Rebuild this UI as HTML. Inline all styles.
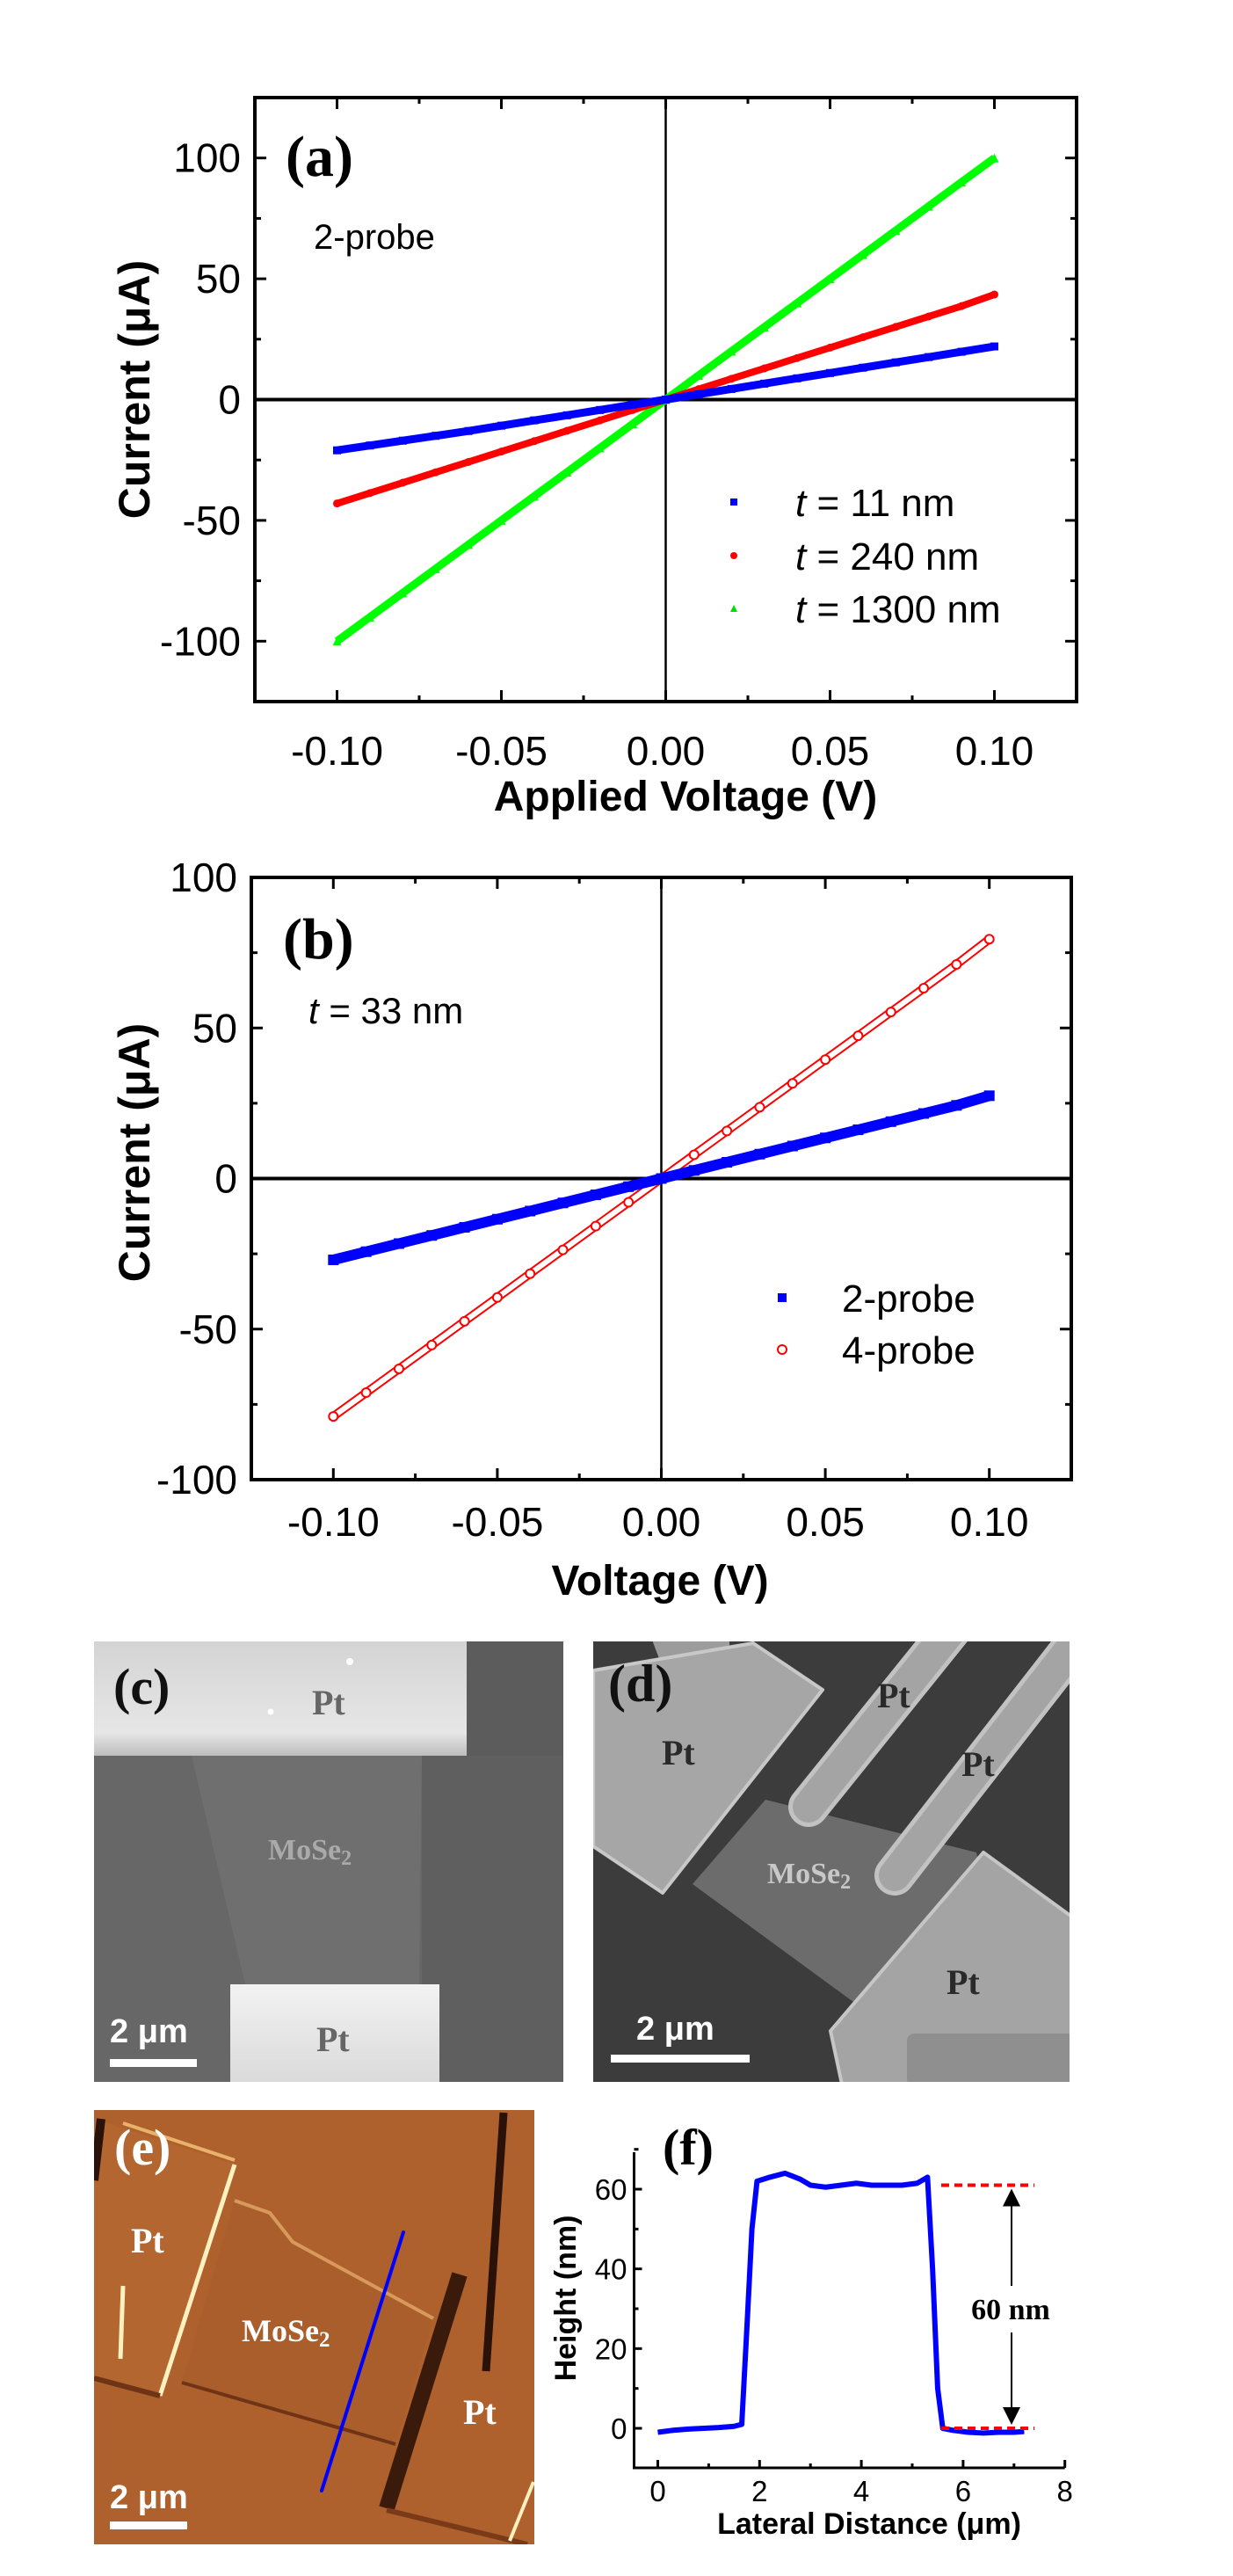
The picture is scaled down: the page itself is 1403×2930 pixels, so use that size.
<!DOCTYPE html>
<html><head><meta charset="utf-8"><style>
html,body{margin:0;padding:0;background:#fff;}
svg{display:block;}
text{font-family:"Liberation Sans",Arial,sans-serif;}
.tm{font-family:"Liberation Serif","Times New Roman",serif;font-weight:bold;}
</style></head><body>
<svg id="fig" xmlns="http://www.w3.org/2000/svg" width="1403" height="2930" viewBox="0 0 1403 2930">
<defs>
<clipPath id="clipD"><rect x="675" y="1867" width="542" height="501"/></clipPath>
<clipPath id="clipE"><rect x="107" y="2400" width="501" height="494"/></clipPath>
<clipPath id="clipA"><rect x="290" y="111" width="935" height="687"/></clipPath>
<clipPath id="clipB"><rect x="286" y="998" width="933" height="685"/></clipPath>
<linearGradient id="ptTop" x1="0" y1="0" x2="0" y2="1"><stop offset="0" stop-color="#d4d4d4"/><stop offset="0.8" stop-color="#e6e6e6"/><stop offset="1" stop-color="#bdbdbd"/></linearGradient>
<linearGradient id="ptBot" x1="0" y1="0" x2="0" y2="1"><stop offset="0" stop-color="#f2f2f2"/><stop offset="1" stop-color="#dadada"/></linearGradient>
</defs>

<!-- panel c -->
<g>
<rect x="107" y="1867" width="534" height="501" fill="#676767"/>
<rect x="480" y="1997" width="161" height="371" fill="#5f5f5f"/>
<polygon points="218,1997 480,1997 477,2257 279,2257" fill="#6f6f6f"/>
<rect x="107" y="1867" width="424" height="130" fill="url(#ptTop)"/>
<rect x="531" y="1867" width="110" height="130" fill="#5c5c5c"/>
<rect x="262" y="2257" width="238" height="111" fill="url(#ptBot)"/>
<circle cx="398" cy="1890" r="4" fill="#fff"/><circle cx="308" cy="1947" r="3.5" fill="#fff"/>
<text class="tm" x="129" y="1938" font-size="58" fill="#111">(c)</text>
<text class="tm" x="355" y="1950" font-size="40" fill="#666">Pt</text>
<text class="tm" x="360" y="2333" font-size="40" fill="#666">Pt</text>
<text class="tm" x="305" y="2115" font-size="34" fill="#aaa">MoSe<tspan font-size="24" dy="6">2</tspan></text>
<text x="125" y="2323" font-size="38" font-weight="bold" fill="#fff">2 μm</text>
<rect x="125" y="2342" width="99" height="9" fill="#fff"/>
</g>

<!-- panel d -->
<g clip-path="url(#clipD)">
<rect x="675" y="1867" width="542" height="501" fill="#3c3c3c"/>
<polygon points="788,2143 871,2047 1111,2107 1130,2200 971,2277" fill="#6c6c6c"/>
<polygon points="740,1860 830,1860 830,1913 760,1913" fill="#9c9c9c"/>
<polygon points="857,1869 936,1922 754,2153 675,2100 675,1900" fill="#a6a6a6" stroke="#c8c8c8" stroke-width="4" stroke-linejoin="round"/>
<line x1="920" y1="2055" x2="1085" y2="1850" stroke="#c2c2c2" stroke-width="46" stroke-linecap="round"/>
<line x1="920" y1="2055" x2="1085" y2="1850" stroke="#a4a4a4" stroke-width="36" stroke-linecap="round"/>
<line x1="1018" y1="2133" x2="1215" y2="1880" stroke="#c2c2c2" stroke-width="46" stroke-linecap="round"/>
<line x1="1018" y1="2133" x2="1215" y2="1880" stroke="#a4a4a4" stroke-width="36" stroke-linecap="round"/>
<polygon points="1119,2107 1240,2195 1240,2380 960,2380 945,2310" fill="#a4a4a4" stroke="#c6c6c6" stroke-width="4" stroke-linejoin="round"/>
<rect x="1032" y="2313" width="190" height="60" rx="8" fill="#8f8f8f"/>
<text class="tm" x="692" y="1935" font-size="60" fill="#111">(d)</text>
<text class="tm" x="753" y="2007" font-size="40" fill="#2a2a2a">Pt</text>
<text class="tm" x="998" y="1942" font-size="40" fill="#2a2a2a">Pt</text>
<text class="tm" x="1094" y="2020" font-size="40" fill="#2a2a2a">Pt</text>
<text class="tm" x="1077" y="2268" font-size="40" fill="#2a2a2a">Pt</text>
<text class="tm" x="873" y="2142" font-size="34" fill="#c8c8c8">MoSe<tspan font-size="24" dy="6">2</tspan></text>
<text x="724" y="2320" font-size="38" font-weight="bold" fill="#fff">2 μm</text>
<rect x="695" y="2337" width="158" height="9" fill="#fff"/>
</g>

<!-- panel e -->
<g clip-path="url(#clipE)">
<rect x="107" y="2400" width="501" height="494" fill="#ae612d"/>
<polygon points="107,2410 267,2462 182,2725 107,2710" fill="#b3662f"/>
<polygon points="207,2710 267,2503 307,2517 333,2550 493,2637 450,2780" fill="#a95e2c"/>
<line x1="140" y1="2415" x2="267" y2="2457" stroke="#e8b26a" stroke-width="4"/>
<line x1="267" y1="2462" x2="182" y2="2725" stroke="#fff2c0" stroke-width="5"/>
<polyline points="267,2503 307,2517 333,2550 493,2637" fill="none" stroke="#d89a5a" stroke-width="4"/>
<line x1="207" y1="2710" x2="450" y2="2780" stroke="#6e3415" stroke-width="4"/>
<line x1="107" y1="2705" x2="182" y2="2725" stroke="#6e3415" stroke-width="6"/>
<line x1="140" y1="2600" x2="137" y2="2683" stroke="#fff0c0" stroke-width="5"/>
<line x1="573" y1="2403" x2="553" y2="2697" stroke="#2a1208" stroke-width="9"/>
<line x1="523" y1="2587" x2="440" y2="2853" stroke="#3a1a0a" stroke-width="18"/>
<line x1="440" y1="2855" x2="600" y2="2894" stroke="#7a3a18" stroke-width="6"/>
<line x1="115" y1="2410" x2="107" y2="2480" stroke="#2a1208" stroke-width="10"/>
<line x1="607" y1="2823" x2="580" y2="2890" stroke="#fff0c0" stroke-width="4"/>
<line x1="459" y1="2539" x2="366" y2="2833" stroke="#0000ff" stroke-width="4" stroke-linecap="round"/>
<text class="tm" x="130" y="2462" font-size="58" fill="#fff">(e)</text>
<text class="tm" x="149" y="2562" font-size="40" fill="#fff">Pt</text>
<text class="tm" x="527" y="2757" font-size="40" fill="#fff">Pt</text>
<text class="tm" x="275" y="2663" font-size="36" fill="#fff">MoSe<tspan font-size="25" dy="6">2</tspan></text>
<text x="125" y="2853" font-size="38" font-weight="bold" fill="#fff">2 μm</text>
<rect x="125" y="2868" width="88" height="9" fill="#fff"/>
</g>

<g id="chartA"></g>
<g id="chartB"></g>
<g id="chartF"></g>
</svg>
<script>
const NS = "http://www.w3.org/2000/svg";
// ---- chart (a) data ----
const voltA = [-0.10,-0.09,-0.08,-0.07,-0.06,-0.05,-0.04,-0.03,-0.02,-0.01,0,0.01,0.02,0.03,0.04,0.05,0.06,0.07,0.08,0.09,0.10];
const curA11 = [-21,-19,-17,-15,-13,-10.8,-8.6,-6.5,-4.3,-2.1,0,2.2,4.4,6.6,8.8,11,13.2,15.4,17.6,19.8,22];
const curA240 = [-43,-38.7,-34.4,-30.1,-25.8,-21.5,-17.2,-12.9,-8.6,-4.3,0,4.3,8.6,12.9,17.2,21.5,25.8,30.1,34.4,38.7,43.5];
const curA1300 = [-100,-90,-80,-70,-60,-50,-40,-30,-20,-10,0,10,20,30,40,50,60,70,80,90,100];
const xTicksA = ["-0.10","-0.05","0.00","0.05","0.10"];
const yTicksA = ["-100","-50","0","50","100"];
const legendA = ["= 11 nm","= 240 nm","= 1300 nm"];
// ---- chart (b) data ----
const voltB = [-0.10,-0.09,-0.08,-0.07,-0.06,-0.05,-0.04,-0.03,-0.02,-0.01,0,0.01,0.02,0.03,0.04,0.05,0.06,0.07,0.08,0.09,0.10];
const curB2 = [-27,-24.3,-21.6,-18.9,-16.2,-13.5,-10.8,-8.1,-5.4,-2.7,0,2.7,5.4,8.1,10.8,13.5,16.2,18.9,21.6,24.3,27.5];
const curB4 = [-79,-71.1,-63.2,-55.3,-47.4,-39.5,-31.6,-23.7,-15.8,-7.9,0,7.9,15.8,23.7,31.6,39.5,47.4,55.3,63.2,71.1,79.5];
const xTicksB = ["-0.10","-0.05","0.00","0.05","0.10"];
const yTicksB = ["-100","-50","0","50","100"];
const legendB = ["2-probe","4-probe"];
// ---- chart (f) data ----
const distF = [0,0.3,0.6,0.9,1.2,1.5,1.65,1.75,1.85,1.95,2.2,2.5,2.8,3.0,3.3,3.6,3.9,4.2,4.5,4.8,5.1,5.3,5.4,5.5,5.6,5.8,6.1,6.4,6.7,7.0,7.2];
const heightF = [-1,-0.5,-0.2,0,0.2,0.5,1,25,50,62,63,64,62.5,61,60.5,61,61.5,61,61,61,61.5,63,40,10,0,-0.5,-1,-1.2,-1,-1,-0.8];
const xTicksF = ["0","2","4","6","8"];
const yTicksF = ["0","20","40","60"];

function el(tag, parent){ const e=document.createElementNS(NS,tag); parent.appendChild(e); return e; }
function sa(e, o){ for(const k in o) e.setAttribute(k,o[k]); return e; }

function ivPanel(g, P){
  const sx = v => P.l + (v - P.x0)/(P.x1-P.x0)*(P.r-P.l);
  const sy = v => P.b - (v - P.y0)/(P.y1-P.y0)*(P.b-P.t);
  const hz = el("line", g); sa(hz,{x1:P.l,x2:P.r,y1:sy(0),y2:sy(0),stroke:"#000","stroke-width":4});
  
  
  const vz = el("line", g); sa(vz,{x1:sx(0),x2:sx(0),y1:P.t,y2:P.b,stroke:"#000","stroke-width":2.5});
  
  
  P.xt.forEach(lab=>{
    const v=parseFloat(lab), x=sx(v);
    const t1=el("line",g); sa(t1,{x1:x,x2:x,y1:P.b,y2:P.b-13,stroke:"#000","stroke-width":3});
    
    
    const t2=el("line",g); sa(t2,{x1:x,x2:x,y1:P.t,y2:P.t+13,stroke:"#000","stroke-width":3});
    
    
    const tx=el("text",g); sa(tx,{x:x,y:P.xlY,"text-anchor":"middle","font-size":46}); tx.textContent=lab;
    
    
    const m=v+0.025; if(m<0.11){ const xm=sx(m);
      const a=el("line",g); sa(a,{x1:xm,x2:xm,y1:P.b,y2:P.b-7,stroke:"#000","stroke-width":3});
      
      
      const b=el("line",g); sa(b,{x1:xm,x2:xm,y1:P.t,y2:P.t+7,stroke:"#000","stroke-width":3});
      
      
    }
  });
  P.yt.forEach(lab=>{
    const v=parseFloat(lab), y=sy(v);
    const t1=el("line",g); sa(t1,{x1:P.l,x2:P.l+13,y1:y,y2:y,stroke:"#000","stroke-width":3});
    
    
    const t2=el("line",g); sa(t2,{x1:P.r,x2:P.r-13,y1:y,y2:y,stroke:"#000","stroke-width":3});
    
    
    const tx=el("text",g); sa(tx,{x:P.l-16,y:y+16,"text-anchor":"end","font-size":46}); tx.textContent=lab;
    
    
    const m=v+25; if(m<P.y1){ const ym=sy(m);
      const a=el("line",g); sa(a,{x1:P.l,x2:P.l+7,y1:ym,y2:ym,stroke:"#000","stroke-width":3});
      
      
      const b=el("line",g); sa(b,{x1:P.r,x2:P.r-7,y1:ym,y2:ym,stroke:"#000","stroke-width":3});
      
      
    }
  });
  const fr=el("rect",g); sa(fr,{x:P.l,y:P.t,width:P.r-P.l,height:P.b-P.t,fill:"none",stroke:"#000","stroke-width":4});
  
  
  return {sx,sy};
}
function marker(g, kind, x, y, color, s){
  let m;
  if(kind==="sq"){ m=el("rect",g); sa(m,{x:x-s/2,y:y-s/2,width:s,height:s,fill:color}); }
  else if(kind==="dot"){ m=el("circle",g); sa(m,{cx:x,cy:y,r:s/2,fill:color}); }
  else if(kind==="tri"){ m=el("polygon",g); sa(m,{points:`${x},${y-s/2} ${x-s/2},${y+s/2} ${x+s/2},${y+s/2}`,fill:color}); }
  else { m=el("circle",g); sa(m,{cx:x,cy:y,r:s/2,fill:"#fff",stroke:color,"stroke-width":2}); }
  return m;
}
function series(g, xs, ys, S, kind, color, s, band, name, hollow){
  const sg=el("g",g);
  
  
  const pts=xs.map((v,i)=>S.sx(v)+","+S.sy(ys[i])).join(" ");
  const pl=el("polyline",sg); sa(pl,{points:pts,fill:"none",stroke:color,"stroke-width":band});
  
  
  if(hollow){ const p2=el("polyline",sg); sa(p2,{points:pts,fill:"none",stroke:"#fff","stroke-width":band-4});
    
     }
  xs.forEach((v,i)=>{ const m=marker(sg,kind,S.sx(v),S.sy(ys[i]),color,s);
    
     });
}
function txt(g, x, y, str, size, extra, name){
  const t=el("text",g); sa(t,Object.assign({x:x,y:y,"font-size":size},extra||{})); t.textContent=str;
  
  
  return t;
}

// ===== Chart A =====
(function(){
  const g=document.getElementById("chartA");
  const S=ivPanel(g,{l:290,r:1225,t:111,b:798,x0:-0.125,x1:0.125,y0:-125,y1:125,xt:xTicksA,yt:yTicksA,xlY:870});
  const dg=el("g",g); dg.setAttribute("clip-path","url(#clipA)");
  series(dg,voltA,curA1300,S,"tri","#00ff00",10,9,"series-1300nm");
  series(dg,voltA,curA240,S,"dot","#ff0000",9,8,"series-240nm");
  series(dg,voltA,curA11,S,"sq","#0000ff",9,9,"series-11nm");
  txt(g,325,200,"(a)",66,{class:"tm"},"panel-label-a");
  txt(g,357,283,"2-probe",40,{},"annotation-2-probe");
  const cols=["#0000ff","#ff0000","#00dd00"], kinds=["sq","dot","tri"], ys=[571,632,692];
  legendA.forEach((l,i)=>{
    const m=marker(g,kinds[i],835,ys[i],cols[i],8);
    
    
    const t=txt(g,905,ys[i]+16,"",44,{},"legend-entry");
    const it=el("tspan",t); it.setAttribute("font-style","italic"); it.textContent="t";
    const rest=el("tspan",t); rest.textContent=" "+l;
  });
  txt(g,0,0,"Current (μA)",50,{"font-weight":"bold","text-anchor":"middle",transform:"translate(170,443) rotate(-90)"},"y-axis-title");
  txt(g,780,922,"Applied Voltage (V)",48,{"font-weight":"bold","text-anchor":"middle"},"x-axis-title");
})();

// ===== Chart B =====
(function(){
  const g=document.getElementById("chartB");
  const S=ivPanel(g,{l:286,r:1219,t:998,b:1683,x0:-0.125,x1:0.125,y0:-100,y1:100,xt:xTicksB,yt:yTicksB,xlY:1747});
  const dg=el("g",g); dg.setAttribute("clip-path","url(#clipB)");
  series(dg,voltB,curB4,S,"ring","#ff0000",10,10,"series-4-probe",true);
  series(dg,voltB,curB2,S,"sq","#0000ff",12,12,"series-2-probe");
  txt(g,322,1090,"(b)",66,{class:"tm"},"panel-label-b");
  const t=txt(g,351,1164,"",42,{},"annotation-thickness");
  const it=el("tspan",t); it.setAttribute("font-style","italic"); it.textContent="t";
  const rest=el("tspan",t); rest.textContent=" = 33 nm";
  const m1=marker(g,"sq",890,1476,"#0000ff",10);
  
  
  const m2=marker(g,"ring",890,1535,"#ff0000",10);
  
  
  legendB.forEach((l,i)=>txt(g,958,[1476,1535][i]+16,l,44,{},"legend-entry"));
  txt(g,0,0,"Current (μA)",50,{"font-weight":"bold","text-anchor":"middle",transform:"translate(170,1311) rotate(-90)"},"y-axis-title");
  txt(g,751,1814,"Voltage (V)",48,{"font-weight":"bold","text-anchor":"middle"},"x-axis-title");
})();

// ===== Chart F =====
(function(){
  const g=document.getElementById("chartF");
  const L=721.5, B=2807, T=2448;
  const sx=v=>748.5+v*57.9, sy=v=>2762-v*4.533;
  const ax=el("polyline",g); sa(ax,{points:`${L},${T} ${L},${B} ${sx(8)},${B}`,fill:"none",stroke:"#000","stroke-width":3});
  
  
  xTicksF.forEach(l=>{ const v=parseFloat(l), x=sx(v);
    const t=el("line",g); sa(t,{x1:x,x2:x,y1:B,y2:B-9,stroke:"#000","stroke-width":3});
    
    
    if(v<8){ const m=el("line",g); sa(m,{x1:sx(v+1),x2:sx(v+1),y1:B,y2:B-5,stroke:"#000","stroke-width":3});
      
       }
    txt(g,x,2845,l,33,{"text-anchor":"middle"},"x-tick-label"); });
  yTicksF.forEach(l=>{ const v=parseFloat(l), y=sy(v);
    const t=el("line",g); sa(t,{x1:L,x2:L+9,y1:y,y2:y,stroke:"#000","stroke-width":3});
    
    
    const m=el("line",g); sa(m,{x1:L,x2:L+5,y1:sy(v+10),y2:sy(v+10),stroke:"#000","stroke-width":3});
    
    
    txt(g,L-8,y+12,l,33,{"text-anchor":"end"},"y-tick-label"); });
  const pl=el("polyline",g); sa(pl,{points:distF.map((v,i)=>sx(v)+","+sy(heightF[i])).join(" "),fill:"none",stroke:"#0000ff","stroke-width":6,"stroke-linejoin":"round"});
  
  
  [61,0].forEach(h=>{ const d=el("line",g); sa(d,{x1:1071,x2:1177,y1:sy(h),y2:sy(h),stroke:"#ff0000","stroke-width":4,"stroke-dasharray":"9,6"});
    
     });
  const a1=el("line",g); sa(a1,{x1:1151,x2:1151,y1:sy(61)+18,y2:2600,stroke:"#000","stroke-width":2});
  
  
  const a2=el("line",g); sa(a2,{x1:1151,x2:1151,y1:2653,y2:sy(0)-18,stroke:"#000","stroke-width":2});
  
  
  const h1=el("polygon",g); sa(h1,{points:`1151,${sy(61)+4} 1141,${sy(61)+24} 1161,${sy(61)+24}`,fill:"#000"});
  
  
  const h2=el("polygon",g); sa(h2,{points:`1151,${sy(0)-4} 1141,${sy(0)-24} 1161,${sy(0)-24}`,fill:"#000"});
  
  
  txt(g,1150,2638,"60 nm",34,{class:"tm","text-anchor":"middle"},"height-annotation");
  txt(g,754,2462,"(f)",58,{class:"tm"},"panel-label-f");
  txt(g,0,0,"Height (nm)",34,{"font-weight":"bold","text-anchor":"middle",transform:"translate(655,2614) rotate(-90)"},"y-axis-title");
  txt(g,989,2882,"Lateral Distance (μm)",34,{"font-weight":"bold","text-anchor":"middle"},"x-axis-title");
})();
</script>
</body></html>
